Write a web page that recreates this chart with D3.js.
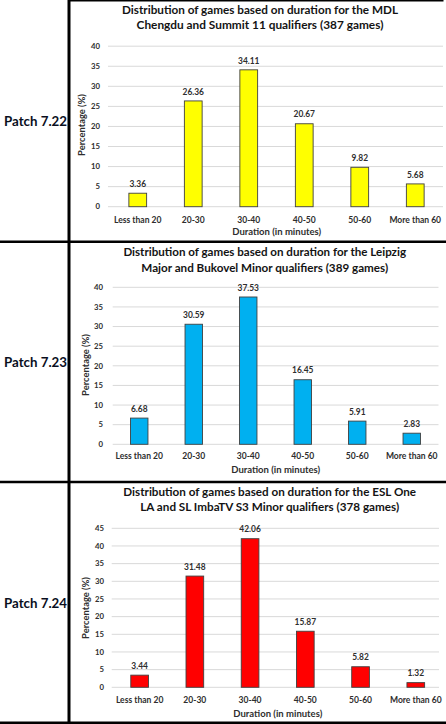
<!DOCTYPE html>
<html>
<head>
<meta charset="utf-8">
<script src="https://cdn.jsdelivr.net/npm/d3@7"></script>
<style>
  html, body { margin: 0; padding: 0; background: #ffffff; }
  svg { display: block; }
  text { font-family: Lato, "Open Sans", sans-serif; font-weight: bold; }
</style>
</head>
<body>
<svg id="chart" width="446" height="724"></svg>
<script>
// ---------------- data ----------------
const categories = ["Less than 20", "20-30", "30-40", "40-50", "50-60", "More than 60"];
const patchLabels = ["Patch 7.22", "Patch 7.23", "Patch 7.24"];
const titleLines722 = ["Distribution of games based on duration for the MDL", "Chengdu and Summit 11 qualifiers (387 games)"];
const titleLines723 = ["Distribution of games based on duration for the Leipzig", "Major and Bukovel Minor qualifiers (389 games)"];
const titleLines724 = ["Distribution of games based on duration for the ESL One", "LA and SL ImbaTV S3 Minor qualifiers (378 games)"];
const values722 = [3.36, 26.36, 34.11, 20.67, 9.82, 5.68];
const values723 = [6.68, 30.59, 37.53, 16.45, 5.91, 2.83];
const values724 = [3.44, 31.48, 42.06, 15.87, 5.82, 1.32];
const yTicks722 = [0, 5, 10, 15, 20, 25, 30, 35, 40];
const yTicks723 = [0, 5, 10, 15, 20, 25, 30, 35, 40];
const yTicks724 = [0, 5, 10, 15, 20, 25, 30, 35, 40, 45];
const yAxisTitle = "Percentage (%)";
const xAxisTitle = "Duration (in minutes)";

// ---------------- layout / style ----------------
const panels = [
  { titles: titleLines722, values: values722, ticks: yTicks722, patch: patchLabels[0], color: "#ffff00",
    yTop: 46.2, yZero: 206.7, xr: [110, 443], grid: [108, 443], tickX: 100,
    titleY: [10, 25.3], titleX: 260, titleW: [276, 247], ylabX: 81.5, ylabY: 125,
    catY: 220, xtitleY: 231.7, xtitleX: 276.7, patchY: 121.7 },
  { titles: titleLines723, values: values723, ticks: yTicks723, patch: patchLabels[1], color: "#00b0f0",
    yTop: 287.3, yZero: 444.3, xr: [112, 439], grid: [112.7, 438.5], tickX: 103,
    titleY: [252.3, 268.3], titleX: 264.7, titleW: [283, 247], ylabX: 86, ylabY: 365,
    catY: 455.7, xtitleY: 469.3, xtitleX: 275.7, patchY: 362.7 },
  { titles: titleLines724, values: values724, ticks: yTicks724, patch: patchLabels[2], color: "#ff0000",
    yTop: 528.3, yZero: 687.3, xr: [112, 443.4], grid: [111.7, 439], tickX: 104,
    titleY: [491.7, 507.3], titleX: 269.7, titleW: [293, 259], ylabX: 86, ylabY: 608,
    catY: 700, xtitleY: 713.3, xtitleX: 277.8, patchY: 603.3 }
];

const svg = d3.select("#chart");

function fit(sel, target) {
  const base = parseFloat(sel.attr("font-size"));
  const w = sel.node().getComputedTextLength();
  if (w > 0) sel.attr("font-size", (base * target / w).toFixed(2));
  return sel;
}
// measure a font size giving a target width for a sample string
function sizeFor(str, target) {
  const t = svg.append("text").attr("font-size", 10).text(str);
  const w = t.node().getComputedTextLength();
  t.remove();
  return w > 0 ? 10 * target / w : 9;
}
const catSize = sizeFor("Less than 20", 47.5);
const valSize = sizeFor("26.36", 21.5);
const tickSize = sizeFor("40", 9);

panels.forEach(p => {
  const maxV = p.ticks[p.ticks.length - 1];
  const y = d3.scaleLinear().domain([0, maxV]).range([p.yZero, p.yTop]);
  const x = d3.scaleBand().domain(categories).range(p.xr).paddingInner(0.68).paddingOuter(0.34);

  const g = svg.append("g");

  // gridlines
  g.append("g").selectAll("line").data(p.ticks).join("line")
    .attr("x1", p.grid[0]).attr("x2", p.grid[1])
    .attr("y1", d => y(d)).attr("y2", d => y(d))
    .attr("stroke", "#d9d9d9").attr("stroke-width", 1);

  // y tick labels
  g.append("g").selectAll("text").data(p.ticks).join("text")
    .attr("x", p.tickX).attr("y", d => y(d)).attr("dy", "0.35em")
    .attr("text-anchor", "end").attr("font-size", tickSize).attr("fill", "#2e2e2e")
    .text(d => d);

  // bars
  g.append("g").selectAll("rect").data(p.values).join("rect")
    .attr("x", (d, i) => x(categories[i]))
    .attr("width", x.bandwidth())
    .attr("y", d => y(d))
    .attr("height", d => y(0) - y(d))
    .attr("fill", p.color).attr("stroke", "#404040").attr("stroke-width", 0.9);

  // value labels
  g.append("g").selectAll("text").data(p.values).join("text")
    .attr("x", (d, i) => x(categories[i]) + x.bandwidth() / 2)
    .attr("y", d => y(d) - 6.3)
    .attr("text-anchor", "middle").attr("font-size", valSize).attr("fill", "#2e2e2e")
    .text(d => d.toFixed(2));

  // category labels
  g.append("g").selectAll("text").data(categories).join("text")
    .attr("x", d => x(d) + x.bandwidth() / 2)
    .attr("y", p.catY).attr("dy", "0.35em")
    .attr("text-anchor", "middle").attr("font-size", catSize).attr("fill", "#2e2e2e")
    .text(d => d);

  // axis titles
  fit(g.append("text")
    .attr("x", p.xtitleX).attr("y", p.xtitleY).attr("dy", "0.35em")
    .attr("text-anchor", "middle").attr("font-size", 9).attr("fill", "#2e2e2e")
    .text(xAxisTitle), 89);

  fit(g.append("text")
    .attr("transform", `translate(${p.ylabX},${p.ylabY}) rotate(-90)`)
    .attr("dy", "0.35em")
    .attr("text-anchor", "middle").attr("font-size", 9).attr("fill", "#2e2e2e")
    .text(yAxisTitle), 62);

  // chart title
  p.titles.forEach((t, i) => {
    fit(g.append("text")
      .attr("x", p.titleX).attr("y", p.titleY[i]).attr("dy", "0.35em")
      .attr("text-anchor", "middle").attr("font-size", 12).attr("fill", "#141414")
      .text(t), p.titleW[i]);
  });

  // patch label
  fit(svg.append("text")
    .attr("x", 35.5).attr("y", p.patchY).attr("dy", "0.35em")
    .attr("text-anchor", "middle").attr("font-size", 13).attr("fill", "#0a0f1e")
    .text(p.patch), 63);
});

// table borders
const borders = svg.append("g").attr("stroke", "#000");
borders.append("line").attr("x1", 69).attr("x2", 69).attr("y1", 0).attr("y2", 724).attr("stroke-width", 3);
borders.append("line").attr("x1", 69).attr("x2", 443.5).attr("y1", 0.5).attr("y2", 0.5).attr("stroke-width", 2);
borders.append("line").attr("x1", 0).attr("x2", 446).attr("y1", 241.7).attr("y2", 241.7).attr("stroke-width", 2.6);
borders.append("line").attr("x1", 0).attr("x2", 446).attr("y1", 482).attr("y2", 482).attr("stroke-width", 2.6);
borders.append("line").attr("x1", 0).attr("x2", 446).attr("y1", 722.8).attr("y2", 722.8).attr("stroke-width", 2.6);
</script>
</body>
</html>
